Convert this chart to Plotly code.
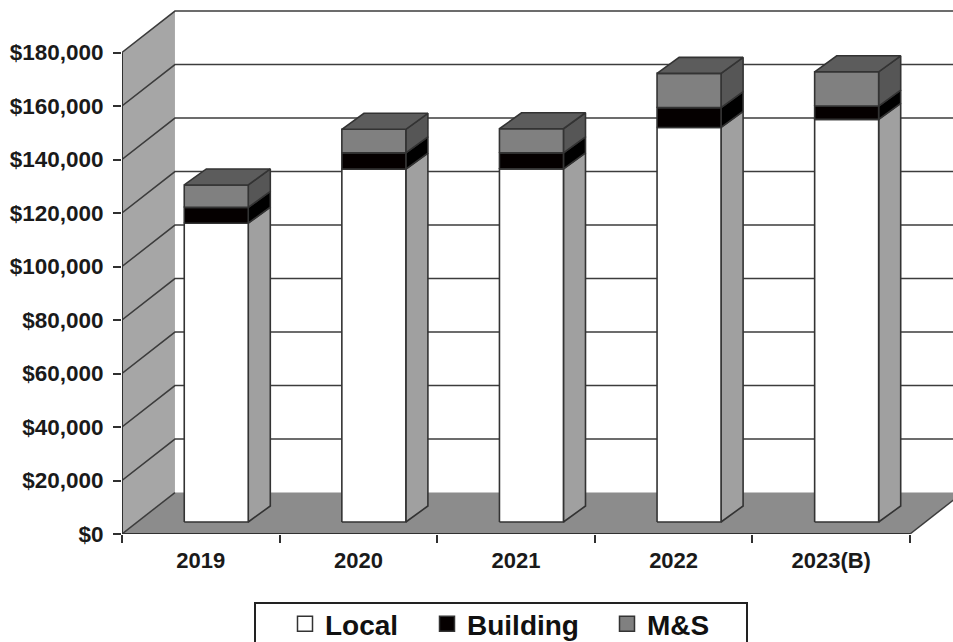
import plotly.graph_objects as go

categories = ["2019", "2020", "2021", "2022", "2023(B)"]
local = [111700, 131900, 132000, 147500, 150500]
building = [5900, 6100, 6000, 7400, 5000]
ms = [8400, 8800, 9000, 12800, 12800]
y_ticks = list(range(0, 180001, 20000))

# chart-box geometry in axis units (x: one category = 1, y: dollars)
Y_TOP = 180000
DEPTH_X, DEPTH_Y = 0.336, 15500        # floor depth
BAR_LEFT, BAR_W = 0.395, 0.406         # bar front face inside a category
BAR_DX, BAR_DY = 0.14, 5980            # bar depth
BAR_OY = 4490                          # bar front lift above the front edge
N = len(categories)

LINE = "#333333"
GRID = "#3c3c3c"


def join(polys):
    xs, ys = [], []
    for p in polys:
        xs += [q[0] for q in p] + [p[0][0], None]
        ys += [q[1] for q in p] + [p[0][1], None]
    return xs, ys


def face(polys, fill, lw=1.6, line=LINE):
    x, y = join(polys)
    return go.Scatter(x=x, y=y, mode="lines", fill="toself", fillcolor=fill,
                      line=dict(color=line, width=lw), hoverinfo="skip",
                      showlegend=False)


def plain(x, y, width=1.5, color=GRID, clip=True):
    return go.Scatter(x=x, y=y, mode="lines", line=dict(color=color, width=width),
                      hoverinfo="skip", showlegend=False, cliponaxis=clip)


fig = go.Figure()

# floor and left wall
fig.add_trace(go.Scatter(x=[0, DEPTH_X, N + DEPTH_X, N, 0],
                         y=[0, DEPTH_Y, DEPTH_Y, 0, 0],
                         mode="lines", fill="toself", fillcolor="#8c8c8c",
                         line=dict(width=0), hoverinfo="skip", showlegend=False))
fig.add_trace(go.Scatter(x=[0, 0, DEPTH_X, DEPTH_X, 0],
                         y=[0, Y_TOP, Y_TOP + DEPTH_Y, DEPTH_Y, 0],
                         mode="lines", fill="toself", fillcolor="#a6a6a6",
                         line=dict(width=0), hoverinfo="skip", showlegend=False))

# grid on walls
for v in y_ticks[1:]:
    fig.add_trace(plain([0, DEPTH_X, N + DEPTH_X], [v, v + DEPTH_Y, v + DEPTH_Y]))
fig.add_trace(plain([0, DEPTH_X], [0, DEPTH_Y]))
fig.add_trace(plain([N, N + DEPTH_X], [0, DEPTH_Y]))

# axis lines
fig.add_trace(plain([0, 0], [0, Y_TOP], 2, "#303030", False))
fig.add_trace(plain([0, N], [0, 0], 2, "#303030", False))

# bars: one front, side and top trace per series
series = [(local, "#ffffff", "#a0a0a0"),
          (building, "#050000", "#000000"),
          (ms, "#808080", "#565656")]
base = [0] * N
for vals, front_c, side_c in series:
    fronts, sides = [], []
    for i, v in enumerate(vals):
        x0 = i + BAR_LEFT
        x1 = x0 + BAR_W
        y0 = base[i] + BAR_OY
        y1 = y0 + v
        fronts.append([(x0, y0), (x1, y0), (x1, y1), (x0, y1)])
        sides.append([(x1, y0), (x1 + BAR_DX, y0 + BAR_DY),
                      (x1 + BAR_DX, y1 + BAR_DY), (x1, y1)])
        base[i] += v
    fig.add_trace(face(sides, side_c))
    fig.add_trace(face(fronts, front_c))

tops = []
for i, h in enumerate(base):
    x0 = i + BAR_LEFT
    x1 = x0 + BAR_W
    y = h + BAR_OY
    tops.append([(x0, y), (x1, y), (x1 + BAR_DX, y + BAR_DY), (x0 + BAR_DX, y + BAR_DY)])
fig.add_trace(face(tops, "#5c5c5c"))

# legend entries, one small legend each so they can sit where the reference has them
legend_font = dict(size=28, family="Liberation Sans", color="#111111", weight="bold")
entries = [("Local", "#ffffff", "legend", 285), ("Building", "#050000", "legend2", 427),
           ("M&S", "#808080", "legend3", 607)]
legends = {}
for name, c, key, left in entries:
    fig.add_trace(go.Scatter(x=[None], y=[None], mode="markers", name=name, legend=key,
                             marker=dict(symbol="square", size=15, color=c,
                                         line=dict(color="#333333", width=1.5))))
    legends[key] = dict(x=(left - 122) / 831, xanchor="left", y=-65 / 524, yanchor="top",
                        font=legend_font, bgcolor="rgba(0,0,0,0)", itemwidth=30)

fig.update_layout(
    width=953, height=642,
    margin=dict(l=122, r=0, t=10, b=108, autoexpand=False),
    paper_bgcolor="white", plot_bgcolor="white",
    font=dict(family="Liberation Sans", color="#1a1a1a"),
    showlegend=True,
    shapes=[dict(type="rect", xref="paper", yref="paper",
                 x0=(255 - 122) / 831, x1=(747 - 122) / 831,
                 y0=-120 / 524, y1=-69 / 524,
                 line=dict(color="#222222", width=2), fillcolor="rgba(0,0,0,0)")],
    xaxis=dict(range=[0, 831 / 157.6], showgrid=False, zeroline=False, showline=False,
               tickmode="array", tickvals=[i + 0.5 for i in range(N)], ticktext=categories,
               ticks="", tickfont=dict(size=22, family="Liberation Sans", weight="bold"),
               ticklabelstandoff=11,
               minor=dict(tickmode="array", tickvals=list(range(N + 1)), ticks="outside",
                          ticklen=8, tickwidth=2, tickcolor="#303030", showgrid=False)),
    yaxis=dict(range=[0, 524 / 53.5 * 20000], showgrid=False, zeroline=False, showline=False,
               tickmode="array", tickvals=y_ticks,
               ticktext=["$" + format(v, ",") for v in y_ticks],
               ticks="outside", ticklen=8, tickwidth=2, tickcolor="#303030",
               tickfont=dict(size=22.5, family="Liberation Sans", weight="bold"),
               ticklabelstandoff=5),
    **legends,
)

fig.write_html("out.html", config={"displayModeBar": False},
               post_script="document.body.style.margin='0';document.body.style.overflow='hidden';")
